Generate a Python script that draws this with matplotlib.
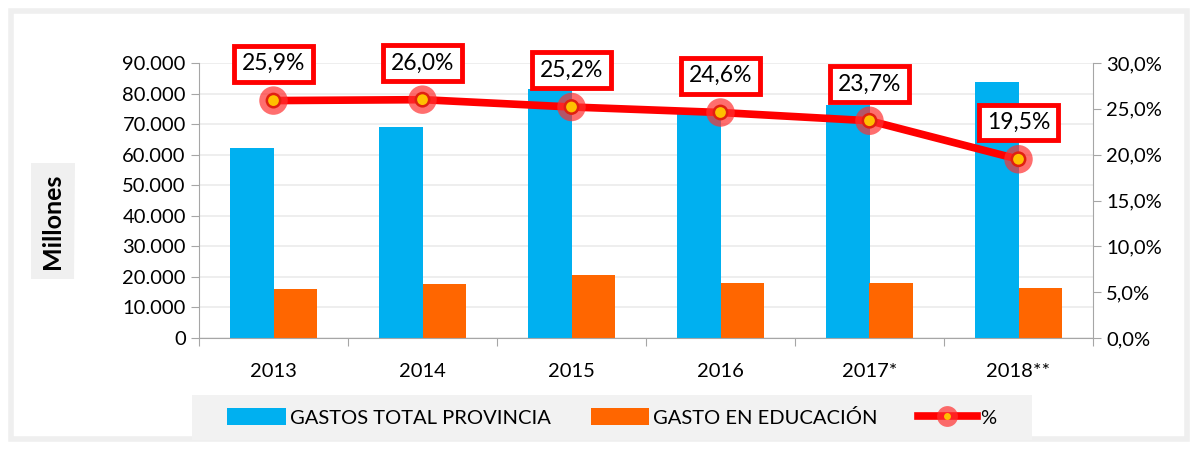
import matplotlib
matplotlib.use("Agg")
import matplotlib.pyplot as plt
from matplotlib.lines import Line2D
from matplotlib.patches import Patch, Rectangle, FancyBboxPatch
from matplotlib.legend_handler import HandlerTuple
from matplotlib.ticker import FuncFormatter, MultipleLocator
import numpy as np

plt.rcParams['font.family'] = ['Lato', 'DejaVu Sans']

years = ['2013', '2014', '2015', '2016', '2017*', '2018**']
gasto_total = [62200, 69000, 81500, 73200, 76200, 83900]
gasto_educacion = [16100, 17800, 20500, 18000, 18100, 16400]
porcentaje = [25.9, 26.0, 25.2, 24.6, 23.7, 19.5]
pct_labels = ['25,9%', '26,0%', '25,2%', '24,6%', '23,7%', '19,5%']

BLUE = '#00B0F0'
ORANGE = '#FF6600'
RED = '#FF0000'
GRID = '#EBEBEB'
AXC = '#A6A6A6'

fig = plt.figure(figsize=(11.98, 4.5), dpi=100)
W, H = 1198, 450

# outer frame
fig.patches.append(FancyBboxPatch((11 / W, 11 / H), (W - 22) / W, (H - 22) / H,
                                  boxstyle='square,pad=0', transform=fig.transFigure,
                                  facecolor='none', edgecolor='#EFEFEF', linewidth=4))

ax = fig.add_axes([199 / W, 1 - 338 / H, (1093 - 199) / W, (338 - 63) / H])
x = np.arange(len(years))
bw = 0.29
ax.bar(x - bw / 2, gasto_total, width=bw, color=BLUE, zorder=2, label='GASTOS TOTAL PROVINCIA')
ax.bar(x + bw / 2, gasto_educacion, width=bw, color=ORANGE, zorder=2, label='GASTO EN EDUCACIÓN')

ax.set_xlim(-0.5, len(years) - 0.5)
ax.set_ylim(0, 90000)
ax.yaxis.set_major_locator(MultipleLocator(10000))
ax.yaxis.set_major_formatter(FuncFormatter(lambda v, p: f"{int(v):,}".replace(',', '.')))
ax.grid(axis='y', color=GRID, linewidth=1.2, zorder=0)
ax.set_axisbelow(True)
for s in ['top', 'right']:
    ax.spines[s].set_visible(False)
for s in ['left', 'bottom']:
    ax.spines[s].set_color(AXC)
ax.tick_params(axis='y', colors=AXC, labelcolor='black', labelsize=14.5, length=6, direction='out')
ax.set_xticks(np.arange(-0.5, len(years), 1.0))
ax.set_xticklabels([])
ax.set_xticks(x, minor=True)
ax.set_xticklabels(years, minor=True)
ax.tick_params(axis='x', which='major', colors=AXC, length=6, direction='out')
ax.tick_params(axis='x', which='minor', length=0, labelsize=14.5, pad=18)

ax2 = ax.twinx()
ax2.set_ylim(0, 30)
ax2.yaxis.set_major_locator(MultipleLocator(5))
ax2.yaxis.set_major_formatter(FuncFormatter(lambda v, p: f"{v:.1f}%".replace('.', ',')))
for s in ['top', 'left', 'bottom']:
    ax2.spines[s].set_visible(False)
ax2.spines['right'].set_color(AXC)
ax2.tick_params(axis='y', colors=AXC, labelcolor='black', labelsize=14.5, length=6, direction='out')

ax2.plot(x, porcentaje, color=RED, linewidth=5.5, zorder=3, solid_capstyle='round')
ax2.scatter(x, porcentaje, s=420, color='#FF3030', alpha=0.7, edgecolors='none', zorder=4)
ax2.scatter(x, porcentaje, s=130, color='#E02010', edgecolors='none', zorder=5)
ax2.scatter(x, porcentaje, s=60, color='#FFC000', edgecolors='none', zorder=6)

for xi, yi, lab in zip(x, porcentaje, pct_labels):
    ax2.annotate(lab, (xi, yi), xytext=(0, 26.5), textcoords='offset points',
                 ha='center', va='center', fontsize=16.5, zorder=7,
                 bbox=dict(boxstyle='square,pad=0.32', facecolor='white', edgecolor=RED, linewidth=3.5))

# y label with gray background
fig.text(53 / W, 1 - 221 / H, 'Millones', rotation=90, ha='center', va='center',
         fontsize=18, fontweight='bold',
         bbox=dict(boxstyle='square,pad=0.4', facecolor='#F0F0F0', edgecolor='none'))

# legend
fig.patches.append(Rectangle((192 / W, 1 - 440 / H), (1032 - 192) / W, 45 / H,
                             transform=fig.transFigure, facecolor='#F2F2F2', edgecolor='none'))
h1 = Patch(facecolor=BLUE)
h2 = Patch(facecolor=ORANGE)
l_line = Line2D([], [], color=RED, linewidth=5.5)
l_halo = Line2D([], [], color='none', marker='o', markersize=15,
                markerfacecolor='#FF3030', markeredgecolor='none', alpha=0.7)
l_dot = Line2D([], [], color='none', marker='o', markersize=5,
               markerfacecolor='#FFC000', markeredgecolor='none')
fig.legend([h1, h2, (l_line, l_halo, l_dot)], ['GASTOS TOTAL PROVINCIA', 'GASTO EN EDUCACIÓN', '%'],
           handler_map={tuple: HandlerTuple(ndivide=1)},
           loc='center', bbox_to_anchor=(612 / W, 1 - 417.5 / H), ncol=3, frameon=False,
           fontsize=14.5, handlelength=2.9, handleheight=0.9, handletextpad=0.2, columnspacing=2.0)

fig.savefig('out.png', dpi=100)
